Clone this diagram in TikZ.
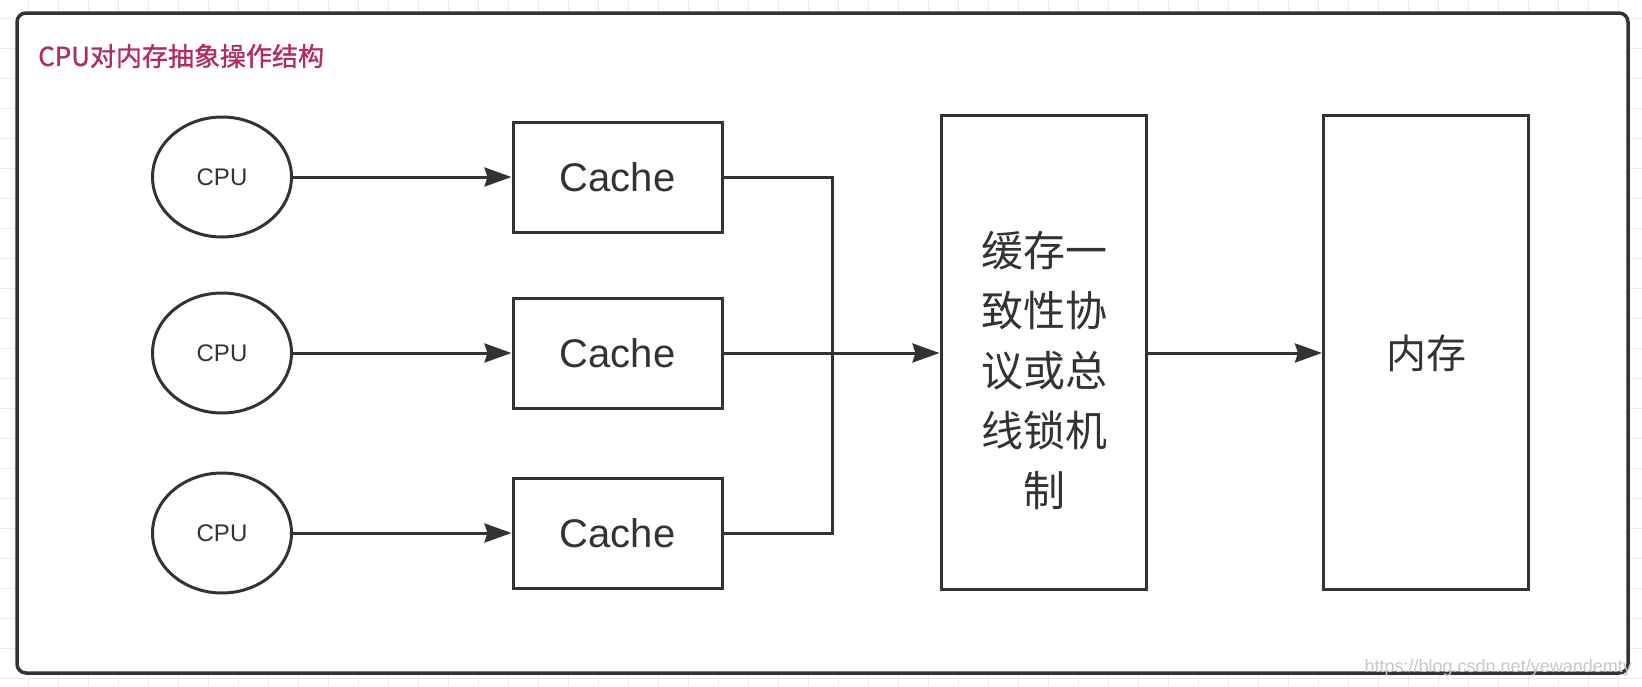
\documentclass[tikz,border=0pt]{standalone}
\usepackage{fontspec}
\setmainfont{Liberation Sans}
\newfontfamily\cjk{Noto Sans CJK SC}
\newfontfamily\cjkb[FakeBold=1.2]{Noto Sans CJK SC}
\usetikzlibrary{shapes.geometric,arrows.meta}
\definecolor{ink}{HTML}{333333}
\definecolor{titlecol}{RGB}{178,44,98}
\definecolor{gridcol}{HTML}{EBEBEB}
\tikzset{
  cpunode/.style={ellipse, draw=ink, line width=3pt, fill=white, minimum width=139pt, minimum height=120pt, inner sep=0pt, text=ink, font=\fontsize{24}{28}\selectfont},
  cachebox/.style={rectangle, draw=ink, line width=3pt, fill=white, minimum width=209pt, minimum height=110pt, inner sep=0pt, text=ink, font=\fontsize{40}{46}\selectfont},
  bigbox/.style={rectangle, draw=ink, line width=3pt, fill=white, minimum width=205pt, minimum height=474pt, inner sep=0pt},
  conn/.style={draw=ink, line width=3pt},
  arr/.style={conn, -{Stealth[length=27pt, width=19pt, inset=3pt]}},
  bigtext/.style={text=ink, align=center, inner sep=0pt, font=\cjk\fontsize{42}{60}\selectfont},
}
\begin{document}
\begin{tikzpicture}[x=1pt, y=-1pt]
\useasboundingbox (0,0) rectangle (1642,686);
\fill[white] (0,0) rectangle (1642,686);
% background grid
\foreach \gx in {28,58,...,1640} \draw[gridcol, line width=1pt] (\gx,0) -- (\gx,686);
\foreach \gy in {18,48,...,680} \draw[gridcol, line width=1pt] (0,\gy) -- (1642,\gy);
% frame
\node[draw=ink, line width=3.5pt, fill=white, rounded corners=9pt, minimum width=1611pt, minimum height=660pt, inner sep=0pt] (frame) at (822.5,343) {};
% title
\node[anchor=west, inner sep=0pt, text=titlecol, font=\cjkb\fontsize{26}{30}\selectfont] (title) at (38,56) {CPU对内存抽象操作结构};
% CPUs
\node[cpunode] (cpu1) at (222,177) {CPU};
\node[cpunode] (cpu2) at (222,353) {CPU};
\node[cpunode] (cpu3) at (222,533) {CPU};
% caches
\node[cachebox] (cache1) at (617.5,177) {Cache};
\node[cachebox] (cache2) at (617.5,353) {Cache};
\node[cachebox] (cache3) at (617.5,533) {Cache};
% big boxes
\node[bigbox] (mesi) at (1043.5,352) {};
\node[bigtext] (mesitext) at (1044,371) {缓存一\\致性协\\议或总\\线锁机\\制};
\node[bigbox] (mem) at (1426,352) {};
\node[text=ink, inner sep=0pt, font=\cjk\fontsize{40}{46}\selectfont] (memtext) at (1426,353) {内存};
% connectors
\draw[arr] (cpu1.east) -- (cache1.west);
\draw[arr] (cpu2.east) -- (cache2.west);
\draw[arr] (cpu3.east) -- (cache3.west);
\coordinate (busTop) at (832,177);
\coordinate (busBot) at (832,533);
\draw[conn, line join=miter] (cache1.east) -- (busTop) -- (busBot) -- (cache3.east);
\draw[arr] (cache2.east) -- (mesi.west |- cache2.east);
\draw[arr] (mesi.east |- cache2.east) -- (mem.west |- cache2.east);
% watermark
\node[anchor=east, inner sep=0pt, text=black!22, font=\fontsize{18}{20}\selectfont] (wm) at (1632,668) {https://blog.csdn.net/yewandemty};
\end{tikzpicture}
\end{document}
